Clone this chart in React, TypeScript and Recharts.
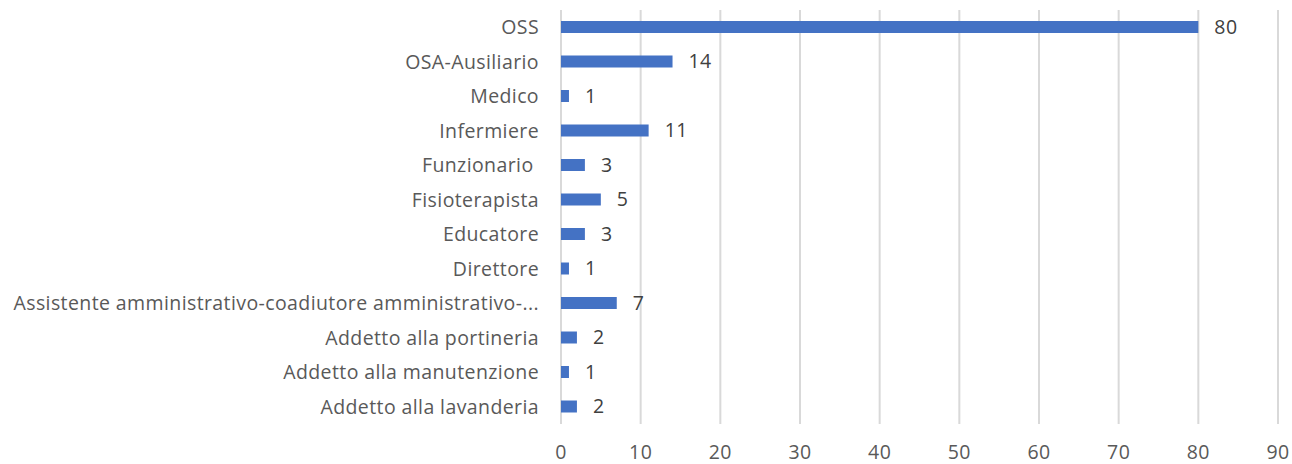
import { BarChart, Bar, XAxis, YAxis, CartesianGrid, LabelList } from 'recharts';

const categories = [
  'OSS',
  'OSA-Ausiliario',
  'Medico',
  'Infermiere',
  'Funzionario\u00A0',
  'Fisioterapista',
  'Educatore',
  'Direttore',
  'Assistente amministrativo-coadiutore amministrativo-...',
  'Addetto alla portineria',
  'Addetto alla manutenzione',
  'Addetto alla lavanderia',
];
const counts = [80, 14, 1, 11, 3, 5, 3, 1, 7, 2, 1, 2];
const xTicks = [0, 10, 20, 30, 40, 50, 60, 70, 80, 90];

const data = categories.map((name, i) => ({ name, value: counts[i] }));

const FONT = '"Open Sans", sans-serif';
const TEXT = '#595959';
const textStyle = { fill: TEXT, fontSize: 19.5, fontFamily: FONT, letterSpacing: 0.4 };

export default function App() {
  return (
    <div style={{ position: 'absolute', left: 0, top: 0, background: '#fff' }}>
      <BarChart
        width={1292}
        height={464}
        data={data}
        layout="vertical"
        margin={{ top: 10, right: 14, bottom: 0, left: 0 }}
      >
        <CartesianGrid horizontal={false} vertical stroke="#d9d9d9" strokeWidth={2} />
        <XAxis
          type="number"
          domain={[0, 90]}
          ticks={xTicks}
          interval={0}
          axisLine={false}
          tickLine={false}
          tickSize={0}
          tickMargin={21}
          height={40}
          tick={textStyle}
        />
        <YAxis
          type="category"
          dataKey="name"
          width={561}
          interval={0}
          axisLine={false}
          tickLine={false}
          tickSize={0}
          tickMargin={22}
          tick={textStyle}
        />
        <Bar dataKey="value" fill="#4472C4" barSize={12} isAnimationActive={false}>
          <LabelList
            dataKey="value"
            position="right"
            offset={16}
            fill="#404040"
            fontSize={19.5}
            fontFamily={FONT}
            letterSpacing={0.4}
          />
        </Bar>
      </BarChart>
    </div>
  );
}
